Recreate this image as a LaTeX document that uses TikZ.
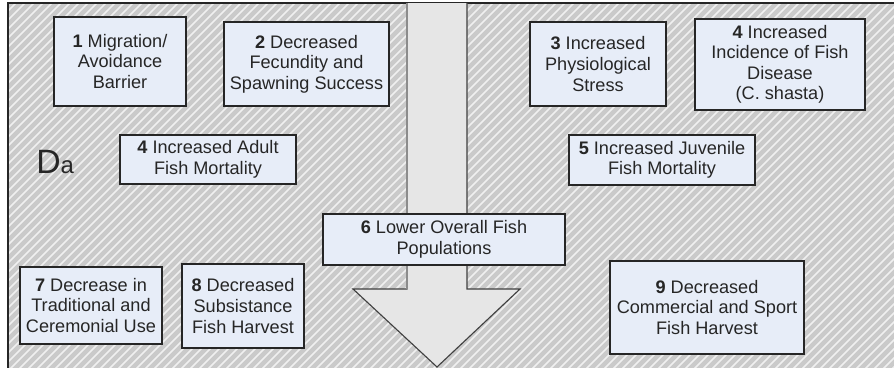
\documentclass[tikz,border=0pt]{standalone}
\usepackage{fontspec}
\setmainfont{Liberation Sans}
\usepackage{xcolor}
\usetikzlibrary{positioning}

\definecolor{boxfill}{RGB}{231,237,248}
\definecolor{panelgray}{RGB}{202,202,202}
\definecolor{arrowgray}{RGB}{230,230,230}

\begin{document}
\begin{tikzpicture}[
    x=0.025cm, y=-0.025cm,
    effect/.style={rectangle, draw=black!85, fill=boxfill, line width=0.9pt, align=center, inner sep=0pt, font=\fontsize{12.9}{14.6}\selectfont, text=black!85},
    hatch/.style={draw=white!94!black, line width=1.2pt},
    bigarrow/.style={fill=arrowgray, draw=black!75, line width=0.8pt, line join=miter}
]
\useasboundingbox (0,0) rectangle (894,368);

% Hatched panel behind everything
\fill[panelgray] (8,3) rectangle (900,372);
\begin{scope}
  \clip (8,3) rectangle (900,372);
  \foreach \k in {-380,-371,...,900}
    \draw[hatch] (\k,372) -- ++(369,-369);
\end{scope}
\draw[black!85, line width=0.9pt] (8,372) -- (8,3) -- (900,3);

% Big downward arrow
\filldraw[bigarrow] (407,3) -- (407,289) -- (353,289) -- (437,367) -- (520,289) -- (467,289) -- (467,3);
\draw[black!45, line width=1.3pt] (407,3) -- (407,289);

% Label
\node[anchor=base west, inner sep=0pt, text=black!85] (da) at (36,173) {\fontsize{24}{24}\selectfont D\fontsize{17}{17}\selectfont a};

% Top Row: stresses on adults and juveniles
\node[effect, minimum width=3.3cm, minimum height=2.225cm] (barrier) at (120,61.5) {\textbf{1} Migration/\\Avoidance\\Barrier};
\node[effect, minimum width=4.125cm, minimum height=2.1cm] (fecundity) at (306.5,64) {\textbf{2} Decreased\\Fecundity and\\Spawning Success};
\node[effect, minimum width=3.4cm, minimum height=2.1cm] (stress) at (598,64) {\textbf{3} Increased\\Physiological\\Stress};
\node[effect, minimum width=4.25cm, minimum height=2.275cm] (disease) at (780,64.5) {\textbf{4} Increased\\Incidence of Fish\\Disease\\(C. shasta)};

% Middle Row: mortality
\node[effect, minimum width=4.4cm, minimum height=1.225cm] (adult) at (208,159.5) {\textbf{4} Increased Adult\\Fish Mortality};
\node[effect, minimum width=4.65cm, minimum height=1.25cm] (juvenile) at (662,160) {\textbf{5} Increased Juvenile\\Fish Mortality};
\node[effect, minimum width=6.05cm, minimum height=1.275cm] (population) at (444,239.5) {\textbf{6} Lower Overall Fish\\Populations};

% Bottom Row: harvest and use
\node[effect, minimum width=3.55cm, minimum height=1.925cm] (ceremonial) at (91,305.5) {\textbf{7} Decrease in\\Traditional and\\Ceremonial Use};
\node[effect, minimum width=3.05cm, minimum height=2.1cm] (subsistence) at (243,306) {\textbf{8} Decreased\\Subsistance\\Fish Harvest};
\node[effect, minimum width=4.85cm, minimum height=2.325cm] (commercial) at (707,307.5) {\textbf{9} Decreased\\Commercial and Sport\\Fish Harvest};

\end{tikzpicture}
\end{document}
